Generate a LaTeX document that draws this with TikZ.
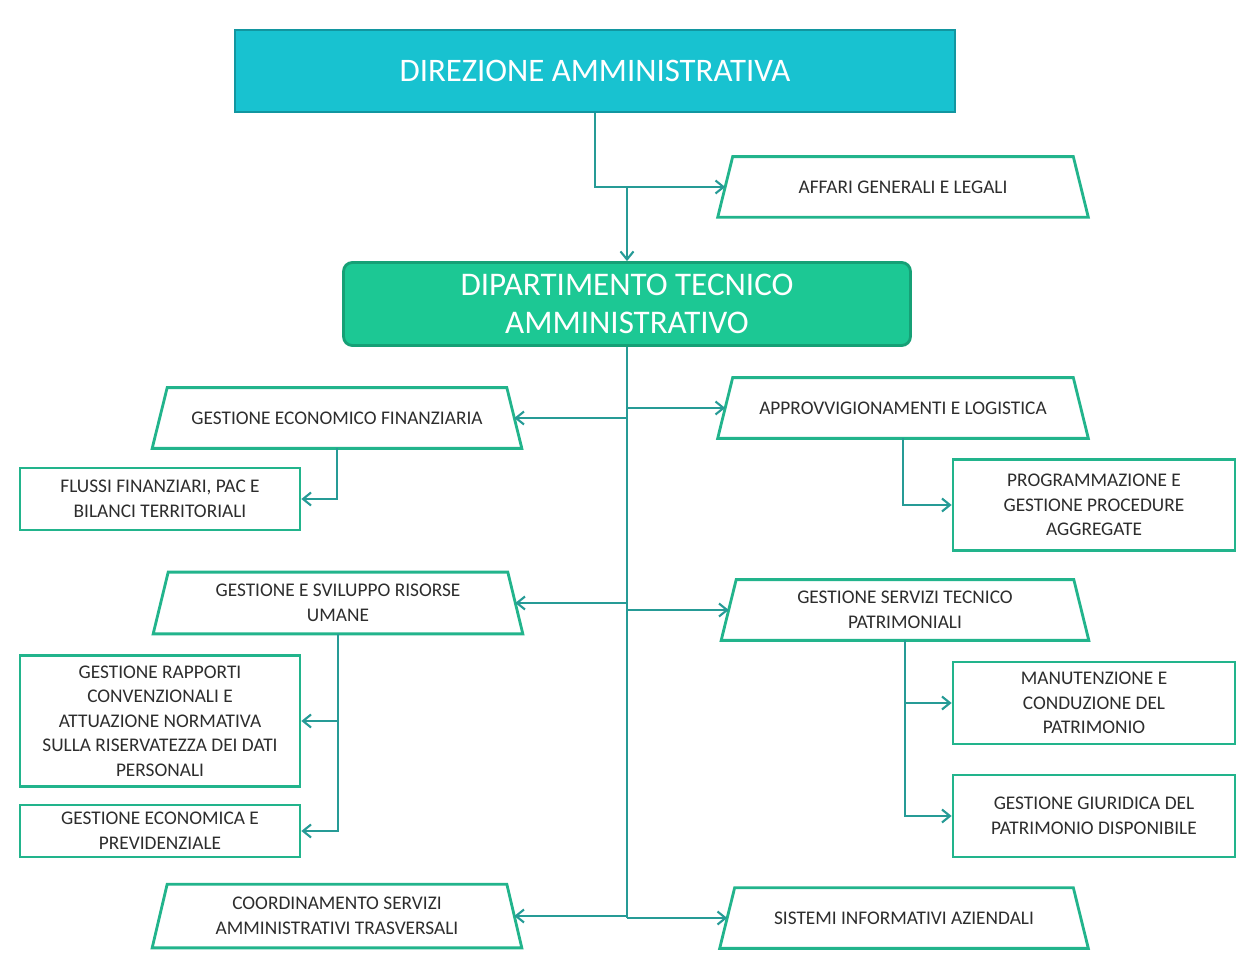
\documentclass[tikz,border=0pt]{standalone}
\usepackage{fontspec}
\setmainfont{Carlito}
\usepackage{xcolor}
\usepackage{tikz}
\usetikzlibrary{arrows.meta,positioning,calc}
\definecolor{dirfill}{RGB}{24,194,208}
\definecolor{dirline}{RGB}{18,150,160}
\definecolor{dipfill}{RGB}{28,200,148}
\definecolor{dipline}{RGB}{22,160,118}
\definecolor{boxline}{RGB}{34,180,140}
\definecolor{linkcol}{RGB}{38,155,150}
\definecolor{textgray}{RGB}{45,45,45}

\begin{document}
\begin{tikzpicture}[x=0.02cm, y=-0.02cm,
        dirbox/.style={rectangle, draw=dirline, line width=1.6pt, fill=dirfill,
                       minimum width=14.4cm, minimum height=1.64cm,
                       text=white, font=\fontsize{18.7}{22}\selectfont},
        dipbox/.style={rectangle, rounded corners=5pt, draw=dipline, line width=1.6pt,
                       fill=dipfill, minimum width=11.34cm, minimum height=1.66cm,
                       align=center, text=white, font=\fontsize{18.8}{21.6}\selectfont},
        trap/.style={rectangle, minimum width=7.08cm, minimum height=1.2cm, inner sep=2pt,
                     align=center, text=textgray, font=\fontsize{11}{14}\selectfont},
        trapline/.style={draw=boxline, line width=1.6pt, line join=miter},
        unit/.style={rectangle, draw=boxline, line width=1.6pt, fill=white,
                     minimum width=5.6cm, inner sep=2pt,
                     align=center, text=textgray, font=\fontsize{11}{14}\selectfont},
        link/.style={draw=linkcol, line width=1.2pt},
        arr/.style={link, -{Straight Barb[length=0.16cm, width=0.26cm]}}
    ]

    \useasboundingbox (0,0) rectangle (1252,956);
    \fill[white] (0,0) rectangle (1252,956);

    %% ── top of the chart ──────────────────────────────────────────────────
    \node[dirbox] (dir) at (595,71) {DIREZIONE AMMINISTRATIVA};
    \node[trap, minimum width=7.1cm] (affari) at (903,187) {AFFARI GENERALI E LEGALI};
    \node[dipbox] (dip) at (627,304) {DIPARTIMENTO TECNICO\\AMMINISTRATIVO};

    %% ── left column ───────────────────────────────────────────────────────
    \node[trap] (gef) at (337,418) {GESTIONE ECONOMICO FINANZIARIA};
    \node[unit, minimum height=1.24cm] (flussi) at (160,499)
        {FLUSSI FINANZIARI, PAC E\\BILANCI TERRITORIALI};
    \node[trap, minimum height=1.22cm] (gsru) at (338,603)
        {GESTIONE E SVILUPPO RISORSE\\UMANE};
    \node[unit, minimum height=2.62cm] (grc) at (160,721)
        {GESTIONE RAPPORTI\\CONVENZIONALI E\\ATTUAZIONE NORMATIVA\\SULLA RISERVATEZZA DEI DATI\\PERSONALI};
    \node[unit, minimum height=1.04cm] (gep) at (160,831)
        {GESTIONE ECONOMICA E\\PREVIDENZIALE};
    \node[trap, minimum height=1.26cm] (coord) at (337,916)
        {COORDINAMENTO SERVIZI\\AMMINISTRATIVI TRASVERSALI};

    %% ── right column ──────────────────────────────────────────────────────
    \node[trap, minimum width=7.1cm] (appr) at (903,408) {APPROVVIGIONAMENTI E LOGISTICA};
    \node[unit, minimum width=5.64cm, minimum height=1.82cm] (prog) at (1094,505)
        {PROGRAMMAZIONE E\\GESTIONE PROCEDURE\\AGGREGATE};
    \node[trap, minimum width=7.04cm] (gstp) at (905,610)
        {GESTIONE SERVIZI TECNICO\\PATRIMONIALI};
    \node[unit, minimum width=5.64cm, minimum height=1.64cm] (manut) at (1094,703)
        {MANUTENZIONE E\\CONDUZIONE DEL\\PATRIMONIO};
    \node[unit, minimum width=5.64cm, minimum height=1.64cm] (ggp) at (1094,816)
        {GESTIONE GIURIDICA DEL\\PATRIMONIO DISPONIBILE};
    \node[trap, minimum width=7.06cm] (sist) at (904,918) {SISTEMI INFORMATIVI AZIENDALI};

    %% trapezium outlines, wider at the bottom
    \foreach \n in {affari,gef,gsru,coord,appr,gstp,sist}
        \draw[trapline] ($(\n.south west)+(-7.5,0)$) -- ($(\n.north west)+(7.5,0)$)
            -- ($(\n.north east)+(-7.5,0)$) -- ($(\n.south east)+(7.5,0)$) -- cycle;

    %% ── connectors ────────────────────────────────────────────────────────
    \draw[arr] (dir.south) |- (affari.west);
    \draw[arr] (dip.north |- affari.west) -- (dip.north);
    \draw[link] (dip.south) -- (dip.south |- sist.west);

    \draw[arr] (dip.south |- gef.east)   -- (gef.east);
    \draw[arr] (dip.south |- appr.west)  -- (appr.west);
    \draw[arr] (dip.south |- gsru.east)  -- (gsru.east);
    \draw[arr] (dip.south |- gstp.west)  -- (gstp.west);
    \draw[arr] (dip.south |- coord.east) -- (coord.east);
    \draw[arr] (dip.south |- sist.west)  -- (sist.west);

    \draw[arr] (gef.south)  |- (flussi.east);
    \draw[arr] (appr.south) |- (prog.west);
    \draw[arr] (gsru.south) |- (grc.east);
    \draw[arr] (gsru.south) |- (gep.east);
    \draw[arr] (gstp.south) |- (manut.west);
    \draw[arr] (gstp.south) |- (ggp.west);

\end{tikzpicture}
\end{document}
